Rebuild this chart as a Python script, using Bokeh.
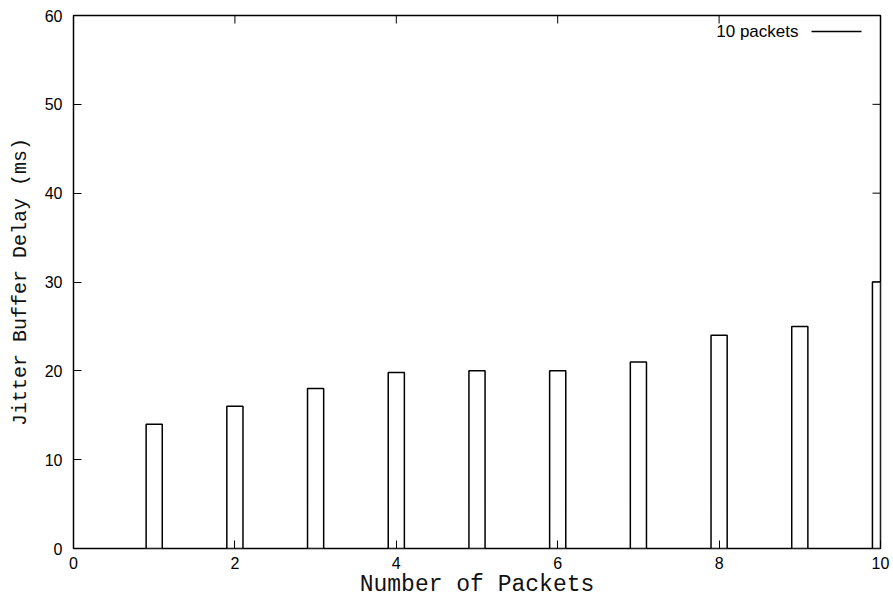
import math
from bokeh.plotting import figure
from bokeh.models import LinearAxis, FixedTicker, Range1d, Label, Arrow, ColumnDataSource
from bokeh.embed import file_html
from bokeh.resources import INLINE

# Data
packets = [1, 2, 3, 4, 5, 6, 7, 8, 9, 10]
delay_ms = [14, 16, 18, 19.8, 20, 20, 21, 24, 25, 30]
x_ticks = [0, 2, 4, 6, 8, 10]
y_ticks = [0, 10, 20, 30, 40, 50, 60]
series_name = "10 packets"
x_title = "Number of Packets"
y_title = "Jitter Buffer Delay (ms)"
x_min, x_max = 0, 10
y_min, y_max = 0, 60

p = figure(width=893, height=601, output_backend="svg", toolbar_location=None,
           x_range=Range1d(x_min, x_max), y_range=Range1d(y_min, y_max),
           min_border_left=73, min_border_right=13, min_border_top=15, min_border_bottom=53,
           x_axis_location=None, y_axis_location=None)
p.grid.visible = False
p.background_fill_color = "white"
p.border_fill_color = "white"
p.outline_line_color = "black"
p.outline_line_width = 1.5
p.outline_line_alpha = 1.0

def make_axis(ticks, label, label_size, label_standoff, tick_standoff):
    ax = LinearAxis(ticker=FixedTicker(ticks=ticks))
    ax.axis_line_color = None
    ax.major_tick_in = 8
    ax.major_tick_out = 0
    ax.major_tick_line_color = "black"
    ax.major_tick_line_width = 1
    ax.minor_tick_line_color = None
    ax.major_label_text_font = "Liberation Sans"
    ax.major_label_text_font_size = "16px"
    ax.major_label_text_color = "black"
    ax.major_label_standoff = tick_standoff
    ax.axis_label = label
    ax.axis_label_text_font = "Liberation Mono"
    ax.axis_label_text_font_size = label_size
    ax.axis_label_text_font_style = "normal"
    ax.axis_label_text_color = "#111111"
    ax.axis_label_standoff = label_standoff
    return ax

bottom = make_axis(x_ticks, x_title, "23px", 0, 8)
left = make_axis(y_ticks, y_title, "20px", 10, 11)
p.add_layout(bottom, "below")
p.add_layout(left, "left")

frame_h = 601 - 15 - 53

# Mirror ticks on top and right edges (gnuplot style)
p.ray(x=x_ticks, y=[y_max] * len(x_ticks), length=8, length_units="screen",
      angle=-math.pi / 2, line_color="black", line_width=1)
p.ray(x=[x_max] * len(y_ticks), y=y_ticks, length=8, length_units="screen",
      angle=math.pi, line_color="black", line_width=1)

src = ColumnDataSource(dict(x=packets, top=delay_ms))
p.vbar(x="x", top="top", bottom=0, width=0.2, source=src,
       fill_color="white", line_color="black", line_width=1.5)

# Legend (gnuplot style: text right-aligned, sample line to its right)
leg_y = frame_h - 16
p.add_layout(Label(x=725, y=leg_y, x_units="screen", y_units="screen",
                   text=series_name, text_font="Liberation Sans", text_font_size="17px",
                   text_align="right", text_baseline="middle", text_color="black"))
p.add_layout(Arrow(end=None, start=None, x_start=738, x_end=788,
                   y_start=leg_y, y_end=leg_y,
                   start_units="screen", end_units="screen",
                   line_color="black", line_width=1.5))

open("out.html", "w").write(file_html(p, INLINE))
